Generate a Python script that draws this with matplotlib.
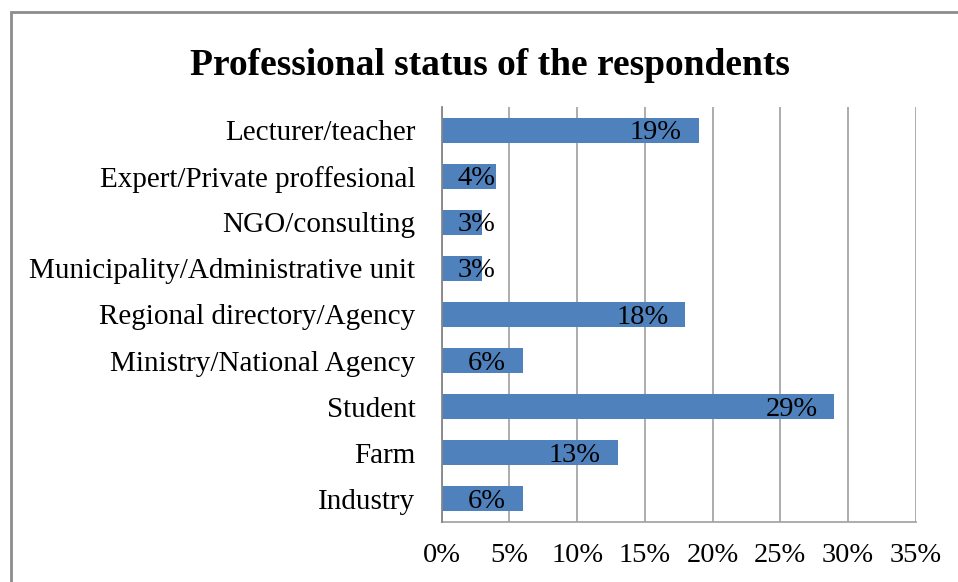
import matplotlib
matplotlib.use("Agg")
import matplotlib.pyplot as plt
from matplotlib.patches import Rectangle

categories = ["Lecturer/teacher", "Expert/Private proffesional", "NGO/consulting",
              "Municipality/Administrative unit", "Regional directory/Agency",
              "Ministry/National Agency", "Student", "Farm", "Industry"]
values = [19, 4, 3, 3, 18, 6, 29, 13, 6]
value_labels = ["19%", "4%", "3%", "3%", "18%", "6%", "29%", "13%", "6%"]
xticks = [0, 5, 10, 15, 20, 25, 30, 35]
xtick_labels = ["0%", "5%", "10%", "15%", "20%", "25%", "30%", "35%"]
title = "Professional status of the respondents"

W, H = 958, 582
plt.rcParams['font.family'] = ['Liberation Serif', 'DejaVu Serif']
fig = plt.figure(figsize=(W / 100, H / 100), dpi=100)

# chart-area border (extends beyond image right and bottom)
fig.patches.append(Rectangle((10.5 / W, -0.2), 1.5, (H - 12) / H + 0.2,
                             transform=fig.transFigure, fill=False,
                             edgecolor='#8c8c8c', linewidth=2.0, zorder=0))

x0, x1 = 441.7, 915.7
ytop, ybot = 107, 522
ax = fig.add_axes([x0 / W, (H - ybot) / H, (x1 - x0) / W, (ybot - ytop) / H])

n = len(categories)
ypos = list(range(n))[::-1]
ax.barh(ypos, values, height=0.54, color='#4F81BD', zorder=2)
ax.set_xlim(0, 35)
ax.set_ylim(-0.5, n - 0.5)
ax.set_xticks(xticks)
ax.set_xticklabels(xtick_labels, fontsize=20.5)
ax.set_yticks(ypos)
ax.set_yticklabels(categories, fontsize=21)
ax.tick_params(axis='x', length=0, pad=15)
ax.tick_params(axis='y', length=0, pad=19)
ax.grid(axis='x', color='#a6a6a6', linewidth=1.3, zorder=1)
for s in ['top', 'right']:
    ax.spines[s].set_visible(False)
ax.spines['left'].set_color('#868686')
ax.spines['left'].set_linewidth(1.3)
ax.spines['bottom'].set_color('#a6a6a6')
ax.spines['bottom'].set_linewidth(1.3)
ax.spines['left'].set_zorder(3)

fig.text(490 / W, 1 - 75 / H, title, ha='center', va='baseline',
         fontsize=27, fontweight='bold')

# data labels: inside end, clamped to start inside the bar
fig.canvas.draw()
renderer = fig.canvas.get_renderer()
axleft = ax.transData.transform((0, 0))[0]
for y, v, lab in zip(ypos, values, value_labels):
    t = ax.annotate(lab, xy=(v, y), xytext=(-17, -9), textcoords='offset pixels',
                    ha='right', va='baseline', fontsize=20.5, zorder=4)
    bb = t.get_window_extent(renderer)
    if bb.x0 < axleft + 16:
        t.remove()
        ax.annotate(lab, xy=(0, y), xytext=(16, -9), textcoords='offset pixels',
                    ha='left', va='baseline', fontsize=20.5, zorder=4)

fig.savefig("out.png", dpi=100)
